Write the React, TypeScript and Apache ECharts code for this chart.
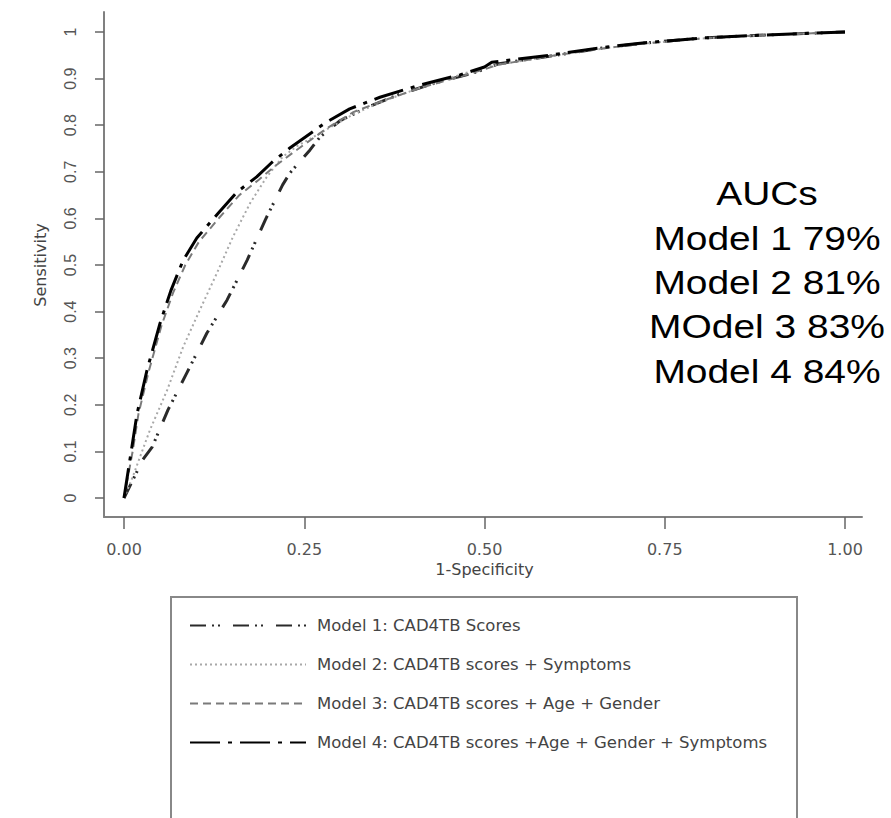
import React, { useEffect, useRef } from "react";
import * as echarts from "echarts";

const xTickValues = [0, 0.25, 0.5, 0.75, 1];
const modelNames = [
  "Model 1: CAD4TB Scores",
  "Model 2: CAD4TB scores + Symptoms",
  "Model 3: CAD4TB scores + Age + Gender",
  "Model 4: CAD4TB scores +Age + Gender + Symptoms",
];
const aucLines = ["AUCs", "Model 1 79%", "Model 2 81%", "MOdel 3 83%", "Model 4 84%"];

const m1Fpr = [0, 0.026, 0.039, 0.061, 0.087, 0.115, 0.143, 0.171, 0.196, 0.22, 0.23, 0.258, 0.272, 0.3, 0.34, 0.38, 0.43, 0.48, 0.5, 0.52, 0.59, 0.66, 0.72, 0.8, 0.88, 1];
const m1Tpr = [0, 0.082, 0.109, 0.189, 0.268, 0.354, 0.425, 0.511, 0.597, 0.672, 0.697, 0.747, 0.775, 0.81, 0.84, 0.865, 0.89, 0.91, 0.92, 0.932, 0.948, 0.965, 0.976, 0.987, 0.993, 1];

const m2Fpr = [0, 0.012, 0.036, 0.06, 0.082, 0.105, 0.129, 0.151, 0.175, 0.198, 0.22, 0.24, 0.28, 0.32, 0.36, 0.41, 0.46, 0.5, 0.56, 0.62, 0.7, 0.8, 0.9, 1];
const m2Tpr = [0, 0.045, 0.146, 0.232, 0.324, 0.403, 0.483, 0.56, 0.633, 0.689, 0.732, 0.755, 0.79, 0.825, 0.852, 0.88, 0.905, 0.925, 0.94, 0.955, 0.972, 0.986, 0.994, 1];

const m3Fpr = [0, 0.012, 0.02, 0.034, 0.052, 0.068, 0.085, 0.104, 0.133, 0.16, 0.187, 0.21, 0.236, 0.283, 0.318, 0.36, 0.415, 0.47, 0.5, 0.52, 0.59, 0.66, 0.72, 0.8, 0.88, 1];
const m3Tpr = [0, 0.1, 0.18, 0.27, 0.37, 0.44, 0.5, 0.55, 0.603, 0.65, 0.683, 0.713, 0.743, 0.795, 0.828, 0.853, 0.882, 0.906, 0.92, 0.93, 0.948, 0.964, 0.975, 0.986, 0.993, 1];

const m4Fpr = [0, 0.011, 0.018, 0.032, 0.05, 0.065, 0.082, 0.101, 0.13, 0.157, 0.184, 0.205, 0.23, 0.279, 0.313, 0.355, 0.41, 0.466, 0.5, 0.51, 0.59, 0.66, 0.716, 0.8, 0.88, 1];
const m4Tpr = [0, 0.11, 0.18, 0.275, 0.375, 0.445, 0.51, 0.558, 0.61, 0.657, 0.689, 0.72, 0.751, 0.805, 0.835, 0.86, 0.886, 0.908, 0.925, 0.935, 0.95, 0.966, 0.976, 0.987, 0.993, 1];

const pairs = (xs: number[], ys: number[]) => xs.map((x, i) => [x, ys[i]]);

export default function App() {
  const ref = useRef<HTMLDivElement>(null);
  useEffect(() => {
    if (!ref.current) return;
    const chart = echarts.init(ref.current, undefined, { renderer: "svg" });
    const styles = [
      { color: "#2a2a2a", width: 3, type: [16, 6, 2, 4, 2, 13] },
      { color: "#a8a8a8", width: 2, type: [2, 3] },
      { color: "#7a7a7a", width: 2, type: [8, 5] },
      { color: "#000000", width: 3, type: [30, 8, 4, 8] },
    ];
    const data = [pairs(m1Fpr, m1Tpr), pairs(m2Fpr, m2Tpr), pairs(m3Fpr, m3Tpr), pairs(m4Fpr, m4Tpr)];
    const aucY = [194, 239, 283, 327, 372];
    chart.setOption({
      animation: false,
      backgroundColor: "#ffffff",
      grid: [
        { left: 104, top: 12, width: 758, height: 505 },
        { left: 124, top: 32, width: 721, height: 466 },
      ],
      xAxis: [
        {
          gridIndex: 0, type: "value", min: 0, max: 1,
          axisLine: { show: true, onZero: false, lineStyle: { color: "#808080", width: 2 } },
          axisTick: { show: false }, axisLabel: { show: false }, splitLine: { show: false },
        },
        {
          gridIndex: 1, type: "value", min: 0, max: 1, interval: 0.25, offset: 19,
          axisLine: { show: false, onZero: false },
          axisTick: { show: true, length: 12, lineStyle: { color: "#666", width: 1.5 } },
          axisLabel: {
            margin: 24, fontSize: 16, fontFamily: "DejaVu Sans", color: "#555",
            formatter: (v: number) => (xTickValues.includes(v) ? v.toFixed(2) : ""),
          },
          splitLine: { show: false },
          name: "1-Specificity", nameLocation: "middle", nameGap: 44,
          nameTextStyle: { fontSize: 16, fontFamily: "DejaVu Sans", color: "#444" },
        },
      ],
      yAxis: [
        {
          gridIndex: 0, type: "value", min: 0, max: 1,
          axisLine: { show: true, onZero: false, lineStyle: { color: "#808080", width: 2 } },
          axisTick: { show: false }, axisLabel: { show: false }, splitLine: { show: false },
        },
        {
          gridIndex: 1, type: "value", min: 0, max: 1, interval: 0.1, offset: 20,
          axisLine: { show: false, onZero: false },
          axisTick: { show: true, length: 9, lineStyle: { color: "#666", width: 1.5 } },
          axisLabel: {
            rotate: 90, margin: 26, fontSize: 16, fontFamily: "Liberation Sans", color: "#555",
            formatter: (v: number) => String(Math.round(v * 10) / 10),
          },
          splitLine: { show: false },
          name: "Sensitivity", nameLocation: "middle", nameGap: 56,
          nameTextStyle: { fontSize: 16, fontFamily: "DejaVu Sans", color: "#444" },
        },
      ],
      legend: {
        data: modelNames,
        orient: "vertical",
        left: 184,
        top: 612,
        itemWidth: 116,
        itemHeight: 14,
        itemGap: 22,
        selectedMode: false,
        itemStyle: { color: "rgba(0,0,0,0)", borderWidth: 0, opacity: 0 },
        textStyle: { fontFamily: "DejaVu Sans", fontSize: 16.5, color: "#444", padding: [0, 0, 0, 6] },
      },
      graphic: [
        {
          type: "rect", z: -1,
          shape: { x: 171, y: 597, width: 626, height: 260 },
          style: { fill: "none", stroke: "#888", lineWidth: 2 },
        },
        ...aucLines.map((t, i) => ({
          type: "text", x: 767, y: aucY[i], scaleX: 1.18,
          style: {
            text: t, fontSize: 33, fontFamily: "Liberation Sans", fill: "#000",
            align: "center", verticalAlign: "middle",
          },
        })),
      ],
      series: modelNames.map((name, i) => ({
        name,
        type: "line",
        xAxisIndex: 1,
        yAxisIndex: 1,
        data: data[i],
        symbol: "none",
        showSymbol: false,
        clip: false,
        lineStyle: { color: styles[i].color, width: styles[i].width, type: styles[i].type, cap: "butt" },
        itemStyle: { color: styles[i].color },
      })),
    });
    return () => chart.dispose();
  }, []);
  return (
    <div
      ref={ref}
      style={{ position: "absolute", left: 0, top: 0, width: 891, height: 818, background: "#fff" }}
    />
  );
}
